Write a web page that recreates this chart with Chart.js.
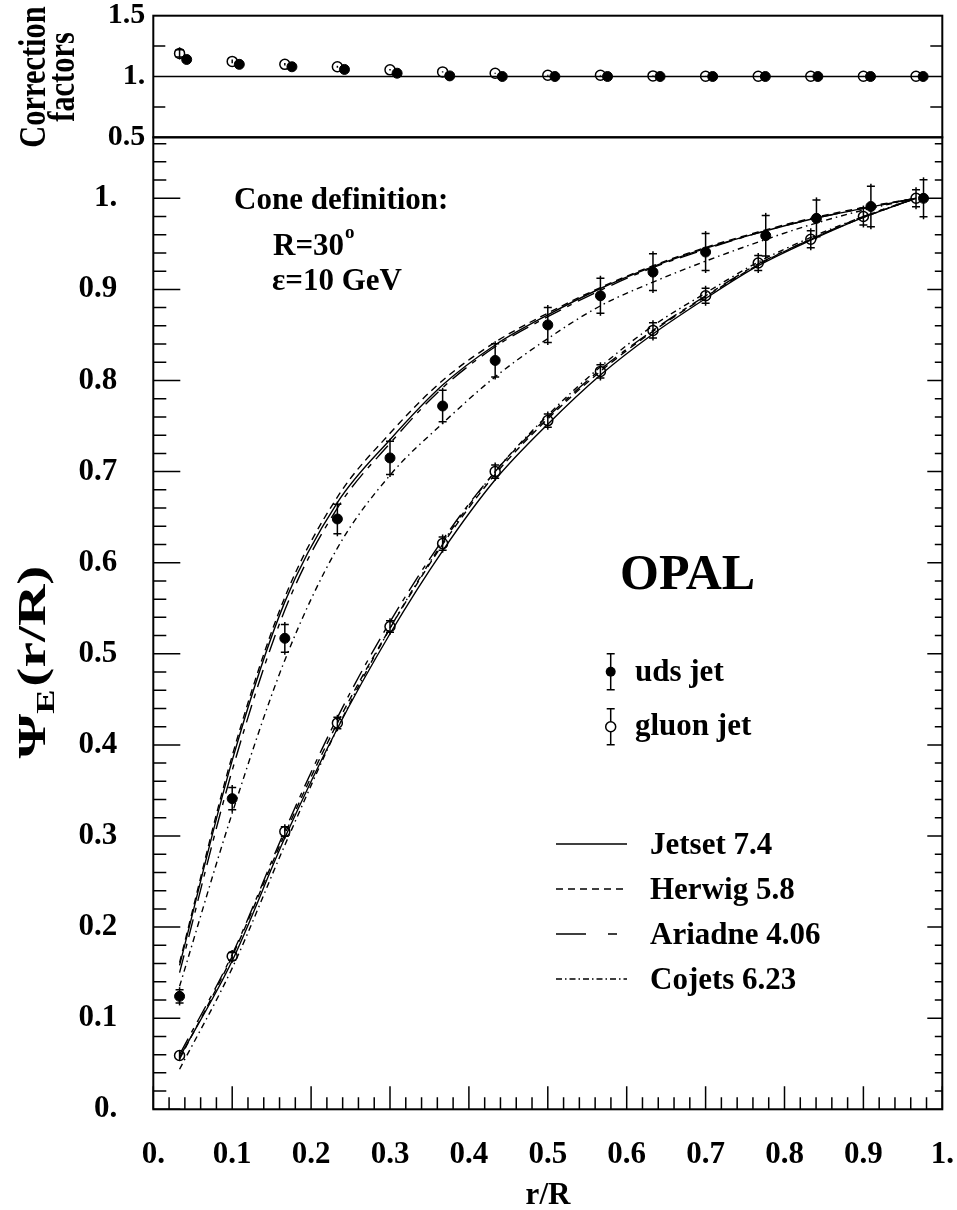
<!DOCTYPE html>
<html><head><meta charset="utf-8">
<script src="https://cdn.jsdelivr.net/npm/chart.js@4.4.1/dist/chart.umd.min.js"></script>
<style>
html,body{margin:0;padding:0;background:#fff;}
#wrap{position:relative;width:957px;height:1210px;background:#fff;}
canvas{position:absolute;left:0;top:0;}
</style></head><body>
<div id="wrap"><canvas id="cTop" width="957" height="1210"></canvas><canvas id="cMain" width="957" height="1210"></canvas></div>
<script>
// ---------------- data ----------------
const binCenters = [0.0333,0.1,0.1667,0.2333,0.3,0.3667,0.4333,0.5,0.5667,0.6333,0.7,0.7667,0.8333,0.9,0.9667];
const udsShiftMain = [0,0,0,0,0,0,0,0,0,0,0,0.0095,0.0072,0.0095,0.0095];
const udsShiftTop  = [0.009,0.009,0.009,0.009,0.009,0.009,0.009,0.009,0.009,0.009,0.009,0.009,0.009,0.009,0.009];

const udsData   = [0.124,0.341,0.517,0.648,0.715,0.772,0.822,0.861,0.893,0.919,0.941,0.959,0.978,0.991,1.000];
const udsErr    = [0.010,0.015,0.018,0.019,0.021,0.020,0.021,0.022,0.022,0.023,0.023,0.025,0.023,0.025,0.023];
const gluonData = [0.059,0.168,0.305,0.424,0.530,0.621,0.700,0.756,0.810,0.855,0.893,0.929,0.955,0.980,1.000];
const gluonErr  = [0.006,0.007,0.008,0.009,0.009,0.010,0.010,0.010,0.010,0.011,0.011,0.011,0.012,0.012,0.012];

const jetsetUds   = [0.158,0.383,0.557,0.666,0.735,0.795,0.839,0.872,0.901,0.925,0.945,0.962,0.977,0.989,1.000];
const herwigUds   = [0.161,0.388,0.562,0.672,0.742,0.800,0.842,0.874,0.902,0.926,0.946,0.963,0.978,0.990,1.000];
const ariadneUds  = [0.150,0.372,0.548,0.660,0.731,0.792,0.837,0.870,0.899,0.924,0.944,0.962,0.977,0.989,1.000];
const cojetsUds   = [0.135,0.325,0.493,0.616,0.696,0.753,0.804,0.846,0.882,0.908,0.931,0.952,0.971,0.987,1.000];
const jetsetGluon = [0.057,0.163,0.298,0.418,0.522,0.613,0.691,0.752,0.806,0.851,0.890,0.926,0.954,0.979,1.000];
const herwigGluon = [0.055,0.168,0.302,0.424,0.528,0.620,0.697,0.758,0.810,0.854,0.892,0.927,0.955,0.979,1.000];
const ariadneGluon= [0.060,0.170,0.306,0.430,0.535,0.625,0.700,0.760,0.812,0.855,0.893,0.928,0.955,0.980,1.000];
const cojetsGluon = [0.044,0.155,0.290,0.418,0.528,0.622,0.700,0.762,0.815,0.860,0.896,0.930,0.957,0.980,1.000];

const cfGluon    = [1.190,1.124,1.100,1.080,1.055,1.038,1.027,1.010,1.010,1.005,1.002,1.002,1.002,1.002,1.002];
const cfGluonErr = [0.050,0.015,0.010,0.008,0.006,0.005,0.004,0.004,0.003,0.003,0.003,0.003,0.003,0.003,0.003];
const cfUds      = [1.140,1.100,1.080,1.058,1.027,1.005,1.000,1.000,1.000,1.000,1.000,1.000,1.000,1.000,1.000];
const cfUdsErr   = [0.030,0.012,0.010,0.008,0.006,0.005,0.004,0.004,0.003,0.003,0.003,0.003,0.003,0.003,0.003];

const xTickValues   = [0,0.1,0.2,0.3,0.4,0.5,0.6,0.7,0.8,0.9,1];
const xTickLabels   = ['0.','0.1','0.2','0.3','0.4','0.5','0.6','0.7','0.8','0.9','1.'];
const psiTickValues = [0,0.1,0.2,0.3,0.4,0.5,0.6,0.7,0.8,0.9,1];
const psiTickLabels = ['0.','0.1','0.2','0.3','0.4','0.5','0.6','0.7','0.8','0.9','1.'];
const cfTickValues  = [0.5,1,1.5];
const cfTickLabels  = ['0.5','1.','1.5'];

const modelNames = ['Jetset 7.4','Herwig 5.8','Ariadne 4.06','Cojets 6.23'];
const jetNames   = ['uds jet','gluon jet'];

// ---------------- layout / style ----------------
const W = 957, H = 1210;
const FL = 153.3, FR = 942.3, FT = 15.7, FM = 137.3, FB = 1109.3;
const FONT = 'Liberation Serif';
const dashes = [[], [7,5], [18,7,5,7], [6,4,1.5,4]];
const legendDashes = [[], [7,5], [30,22,9,40], [6,3,1.5,3]];

Chart.defaults.font.family = FONT;
Chart.defaults.font.weight = 'bold';
Chart.defaults.color = '#000';

function pts(xs, ys, shift) { return xs.map((x, i) => ({ x: x + (shift ? shift[i] : 0), y: ys[i] })); }

function curve(label, ys, dash) {
  return { label, data: pts(binCenters, ys), showLine: true, borderColor: '#000', borderWidth: 1.4,
    borderDash: dash, pointRadius: 0, pointHoverRadius: 0, fill: false, cubicInterpolationMode: 'monotone', order: 2 };
}

function drawErrors(chart, dsIndex, errs) {
  const meta = chart.getDatasetMeta(dsIndex);
  const ys = chart.scales[meta.yAxisID];
  const ctx = chart.ctx;
  const ds = chart.data.datasets[dsIndex];
  ctx.save();
  ctx.strokeStyle = '#000';
  ctx.lineWidth = 1.5;
  ds.data.forEach((p, i) => {
    const e = errs[i]; if (!e) return;
    const px = chart.scales.x.getPixelForValue(p.x);
    const y1 = ys.getPixelForValue(p.y + e), y2 = ys.getPixelForValue(p.y - e);
    ctx.beginPath(); ctx.moveTo(px, y1); ctx.lineTo(px, y2); ctx.stroke();
    if (y2 - y1 > 12) {
      ctx.beginPath();
      ctx.moveTo(px - 4, y1 + 2.5); ctx.lineTo(px + 4, y1 + 2.5);
      ctx.moveTo(px - 4, y2 - 2.5); ctx.lineTo(px + 4, y2 - 2.5);
      ctx.stroke();
    }
  });
  ctx.restore();
}

function yTicks(ctx, scale, from, to, step, majorEvery, x, dir, majLen, minLen) {
  const n = Math.round((to - from) / step);
  ctx.beginPath();
  for (let i = 0; i <= n; i++) {
    const v = from + i * step;
    const py = scale.getPixelForValue(v);
    if (py < FM - 0.5 || py > FB + 0.5) continue;
    const len = (i % majorEvery === 0) ? majLen : minLen;
    ctx.moveTo(x, py); ctx.lineTo(x + dir * len, py);
  }
  ctx.stroke();
}

// ---------------- top chart: correction factors ----------------
const topPlugin = {
  id: 'topDeco',
  afterDatasetsDraw(chart) {
    drawErrors(chart, 0, cfGluonErr);
    drawErrors(chart, 1, cfUdsErr);
  },
  afterDraw(chart) {
    const ctx = chart.ctx, ys = chart.scales.y, a = chart.chartArea;
    ctx.save();
    ctx.strokeStyle = '#000';
    ctx.lineWidth = 1.5;
    const y1 = ys.getPixelForValue(1);
    ctx.beginPath(); ctx.moveTo(a.left, y1); ctx.lineTo(a.right, y1); ctx.stroke();
    ctx.beginPath();
    [0.75, 1.25].forEach(v => {
      const py = ys.getPixelForValue(v);
      ctx.moveTo(a.left, py); ctx.lineTo(a.left + 12, py);
      ctx.moveTo(a.right, py); ctx.lineTo(a.right - 12, py);
    });
    ctx.stroke();
    ctx.lineWidth = 2;
    ctx.strokeRect(a.left, a.top, a.right - a.left, a.bottom - a.top);
    ctx.fillStyle = '#000';
    ctx.textAlign = 'center';
    ctx.textBaseline = 'alphabetic';
    ctx.translate(0, 77);
    ctx.rotate(-Math.PI / 2);
    ctx.scale(0.8, 1);
    ctx.font = 'bold 38px ' + FONT;
    ctx.fillText('Correction', 0, 45);
    ctx.fillText('factors', 0, 74);
    ctx.restore();
  }
};

new Chart(document.getElementById('cTop'), {
  type: 'scatter',
  data: { datasets: [
    { label: 'gluon cf', data: pts(binCenters, cfGluon), pointRadius: 5, pointBorderWidth: 1.5,
      pointBackgroundColor: 'rgba(0,0,0,0)', pointBorderColor: '#000', order: 1 },
    { label: 'uds cf', data: pts(binCenters, cfUds, udsShiftTop), pointRadius: 5, pointBorderWidth: 1,
      pointBackgroundColor: '#000', pointBorderColor: '#000', order: 0 }
  ]},
  options: {
    responsive: false, animation: false, devicePixelRatio: 1,
    layout: { padding: { left: 0, top: FT, right: W - FR, bottom: H - FM } },
    plugins: { legend: { display: false }, tooltip: { enabled: false } },
    scales: {
      x: { type: 'linear', min: 0, max: 1, display: false },
      y: { type: 'linear', min: 0.5, max: 1.5,
        afterFit: s => { s.width = FL; s.paddingTop = 0; s.paddingBottom = 0; },
        afterBuildTicks: s => { s.ticks = cfTickValues.map(v => ({ value: v })); },
        grid: { display: false, drawTicks: false, tickLength: 0 },
        border: { display: false },
        ticks: { padding: 8, font: { size: 30, weight: 'bold' }, color: '#000',
          callback: (v, i) => cfTickLabels[i] } }
    }
  },
  plugins: [topPlugin]
});

// ---------------- main chart ----------------
const mainPlugin = {
  id: 'mainDeco',
  afterDatasetsDraw(chart) {
    drawErrors(chart, 8, udsErr);
    drawErrors(chart, 9, gluonErr);
  },
  afterDraw(chart) {
    const ctx = chart.ctx, a = chart.chartArea, xs = chart.scales.x, ys = chart.scales.y;
    ctx.save();
    ctx.strokeStyle = '#000';
    ctx.lineWidth = 1.5;
    yTicks(ctx, ys, 0, 1.06, 0.02, 5, a.left, 1, 27, 13);
    yTicks(ctx, ys, 0, 1.06, 0.02, 5, a.right, -1, 15, 7.5);
    ctx.beginPath();
    for (let i = 0; i <= 50; i++) {
      const px = xs.getPixelForValue(i * 0.02);
      const len = (i % 5 === 0) ? 23 : 12;
      ctx.moveTo(px, a.bottom); ctx.lineTo(px, a.bottom - len);
    }
    ctx.stroke();
    ctx.lineWidth = 2;
    ctx.strokeRect(a.left, a.top, a.right - a.left, a.bottom - a.top);

    ctx.fillStyle = '#000';
    ctx.textBaseline = 'alphabetic';
    ctx.textAlign = 'left';
    ctx.font = 'bold 31px ' + FONT;
    ctx.fillText('Cone definition:', 234, 209);
    ctx.fillText('R=30', 273, 255);
    const wR = ctx.measureText('R=30').width;
    ctx.fillText('\u03b5=10 GeV', 272, 290);
    ctx.font = 'bold 19px ' + FONT;
    ctx.fillText('o', 273 + wR + 1, 238);

    ctx.font = 'bold 50px ' + FONT;
    ctx.fillText('OPAL', 620, 589);

    ctx.font = 'bold 31px ' + FONT;
    ctx.fillText(jetNames[0], 635, 681);
    ctx.fillText(jetNames[1], 635, 735);
    ctx.lineWidth = 1.5;
    [[671.7, true], [726.7, false]].forEach(([cy, filled]) => {
      const cx = 610.7;
      ctx.beginPath();
      ctx.moveTo(cx, cy - 18); ctx.lineTo(cx, cy + 18);
      ctx.moveTo(cx - 4, cy - 18); ctx.lineTo(cx + 4, cy - 18);
      ctx.moveTo(cx - 4, cy + 18); ctx.lineTo(cx + 4, cy + 18);
      ctx.stroke();
      ctx.beginPath(); ctx.arc(cx, cy, 5, 0, Math.PI * 2);
      if (filled) { ctx.fillStyle = '#000'; ctx.fill(); }
      else { ctx.fillStyle = '#fff'; ctx.fill(); ctx.stroke(); }
    });
    ctx.fillStyle = '#000';
    ctx.lineWidth = 1.4;
    modelNames.forEach((name, i) => {
      const by = 854 + i * 45;
      ctx.setLineDash(legendDashes[i]);
      ctx.beginPath(); ctx.moveTo(556, by - 10); ctx.lineTo(627, by - 10); ctx.stroke();
      ctx.setLineDash([]);
      ctx.fillText(name, 650, by);
    });

    ctx.textAlign = 'center';
    ctx.font = 'bold 31px ' + FONT;
    ctx.fillText('r/R', 548, 1204);

    ctx.translate(45, 662);
    ctx.rotate(-Math.PI / 2);
    ctx.scale(1.4, 1);
    ctx.textAlign = 'left';
    const big = 'bold 41px ' + FONT, small = 'bold 26px ' + FONT;
    ctx.font = big;
    const w1 = ctx.measureText('\u03a8').width;
    const w3 = ctx.measureText('(r/R)').width;
    ctx.font = small;
    const w2 = ctx.measureText('E').width;
    const tot = w1 + w2 + 2 + w3;
    const x0 = -tot / 2;
    ctx.font = big;
    ctx.fillText('\u03a8', x0, 0);
    ctx.fillText('(r/R)', x0 + w1 + w2 + 2, 0);
    ctx.font = small;
    ctx.fillText('E', x0 + w1, 9);
    ctx.restore();
  }
};

const modelUds = [jetsetUds, herwigUds, ariadneUds, cojetsUds];
const modelGluon = [jetsetGluon, herwigGluon, ariadneGluon, cojetsGluon];
const mainDatasets = [];
modelNames.forEach((n, i) => mainDatasets.push(curve(n + ' uds', modelUds[i], dashes[i])));
modelNames.forEach((n, i) => mainDatasets.push(curve(n + ' gluon', modelGluon[i], dashes[i])));
mainDatasets.push({ label: jetNames[0], data: pts(binCenters, udsData, udsShiftMain), pointRadius: 5, pointBorderWidth: 1,
  pointBackgroundColor: '#000', pointBorderColor: '#000', order: 0 });
mainDatasets.push({ label: jetNames[1], data: pts(binCenters, gluonData), pointRadius: 5, pointBorderWidth: 1.5,
  pointBackgroundColor: 'rgba(0,0,0,0)', pointBorderColor: '#000', order: 1 });

new Chart(document.getElementById('cMain'), {
  type: 'scatter',
  data: { datasets: mainDatasets },
  options: {
    responsive: false, animation: false, devicePixelRatio: 1,
    layout: { padding: { left: 0, top: FM, right: W - FR, bottom: 0 } },
    plugins: { legend: { display: false }, tooltip: { enabled: false } },
    scales: {
      x: { type: 'linear', min: 0, max: 1,
        afterFit: s => { s.height = H - FB; s.paddingLeft = 0; s.paddingRight = 0; },
        afterBuildTicks: s => { s.ticks = xTickValues.map(v => ({ value: v })); },
        grid: { display: false, drawTicks: false, tickLength: 0 },
        border: { display: false },
        ticks: { padding: 27, autoSkip: false, maxRotation: 0, font: { size: 31, weight: 'bold' }, color: '#000',
          callback: (v, i) => xTickLabels[i] } },
      y: { type: 'linear', min: 0, max: (FB - FM) / 911,
        afterFit: s => { s.width = FL; s.paddingTop = 0; s.paddingBottom = 0; },
        afterBuildTicks: s => { s.ticks = psiTickValues.map(v => ({ value: v })); },
        grid: { display: false, drawTicks: false, tickLength: 0 },
        border: { display: false },
        ticks: { padding: 36, font: { size: 31, weight: 'bold' }, color: '#000',
          callback: (v, i) => psiTickLabels[i] } }
    }
  },
  plugins: [mainPlugin]
});
</script>
</body></html>
